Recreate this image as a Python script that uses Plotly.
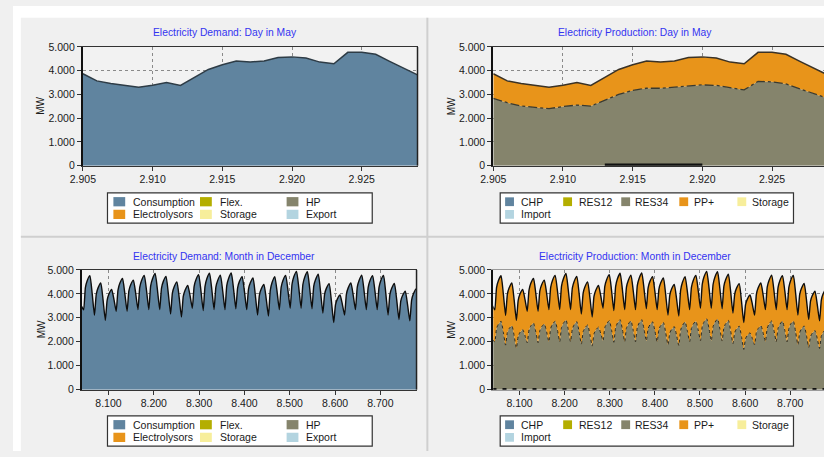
import plotly.graph_objects as go

W, H = 824, 457

# ---------------- data ----------------
# Day in May (hourly)
day_hours = list(range(2905, 2930))
day_demand = [3870, 3570, 3460, 3380, 3300, 3390, 3500, 3380, 3710, 4050, 4250, 4410, 4360,
              4410, 4550, 4580, 4530, 4360, 4290, 4770, 4770, 4690, 4390, 4120, 3820]
day_res34 = [2830, 2650, 2510, 2460, 2400, 2490, 2550, 2510, 2760, 3000, 3170, 3260, 3260,
             3300, 3360, 3400, 3380, 3270, 3190, 3550, 3530, 3440, 3230, 3030, 2830]
day_ppplus = [1040, 920, 950, 920, 900, 900, 950, 870, 950, 1050, 1080, 1150, 1100,
              1110, 1190, 1180, 1150, 1090, 1100, 1220, 1240, 1250, 1160, 1090, 990]
day_chp = [None, None, None, None, None, None, None, None, 40, 40, 40, 40, 40, 40, 40, 40,
           None, None, None, None, None, None, None, None, None]

# Month in December (values read at hours 0, 5, 9, 13, 19 of each day)
month_day_offsets = [0, 5, 9, 13, 19]
month_hours = [8040 + 24 * d + o for d in range(31) for o in month_day_offsets] + [8784]
month_demand = [
    3500, 3330, 4260, 4550, 4760,
    4010, 3100, 3980, 4250, 4450,
    3750, 2890, 3730, 3990, 4180,
    3770, 3270, 4160, 4440, 4640,
    4020, 3270, 4120, 4380, 4570,
    4020, 3340, 4270, 4560, 4770,
    4130, 3340, 4320, 4620, 4850,
    4170, 3340, 4240, 4520, 4730,
    4020, 3160, 4030, 4300, 4500,
    3840, 3030, 3890, 4150, 4350,
    3920, 3400, 4310, 4590, 4800,
    4130, 3300, 4310, 4630, 4860,
    4180, 3340, 4280, 4560, 4780,
    4130, 3340, 4340, 4640, 4870,
    4200, 3380, 4250, 4520, 4720,
    4100, 3340, 4200, 4460, 4660,
    3960, 3110, 3940, 4200, 4390,
    3800, 3070, 4140, 4470, 4720,
    4100, 3340, 4270, 4560, 4770,
    4150, 3400, 4400, 4710, 4940,
    4250, 3400, 4390, 4690, 4920,
    4230, 3380, 4320, 4600, 4820,
    4090, 3200, 3990, 4240, 4420,
    3690, 2800, 3550, 3780, 3950,
    3570, 3110, 3980, 4250, 4450,
    3950, 3340, 4280, 4560, 4780,
    4130, 3340, 4260, 4550, 4760,
    4120, 3340, 4270, 4560, 4770,
    4020, 3110, 3970, 4230, 4430,
    3760, 2930, 3700, 3930, 4110,
    3550, 2870, 3740, 4000, 4200,
    3620,
]
month_res34 = [
    2100, 2000, 2560, 2730, 2860,
    2410, 1860, 2390, 2550, 2670,
    2250, 1730, 2240, 2390, 2510,
    2260, 1960, 2500, 2660, 2780,
    2410, 1960, 2470, 2630, 2740,
    2410, 2000, 2560, 2740, 2860,
    2480, 2000, 2590, 2770, 2910,
    2500, 2000, 2540, 2710, 2840,
    2410, 1900, 2420, 2580, 2700,
    2300, 1820, 2330, 2490, 2610,
    2350, 2040, 2590, 2750, 2880,
    2480, 1980, 2590, 2780, 2920,
    2510, 2000, 2570, 2740, 2870,
    2480, 2000, 2600, 2780, 2920,
    2520, 2030, 2550, 2710, 2830,
    2460, 2000, 2520, 2680, 2800,
    2380, 1870, 2360, 2520, 2630,
    2280, 1840, 2480, 2680, 2830,
    2460, 2000, 2560, 2740, 2860,
    2490, 2040, 2640, 2830, 2960,
    2550, 2040, 2630, 2810, 2950,
    2540, 2030, 2590, 2760, 2890,
    2450, 1920, 2390, 2540, 2650,
    2210, 1680, 2130, 2270, 2370,
    2140, 1870, 2390, 2550, 2670,
    2370, 2000, 2570, 2740, 2870,
    2480, 2000, 2560, 2730, 2860,
    2470, 2000, 2560, 2740, 2860,
    2410, 1870, 2380, 2540, 2660,
    2260, 1760, 2220, 2360, 2470,
    2130, 1720, 2240, 2400, 2520,
    2170,
]
month_ppplus = [
    1400, 1330, 1700, 1820, 1900,
    1600, 1240, 1590, 1700, 1780,
    1500, 1160, 1490, 1600, 1670,
    1510, 1310, 1660, 1780, 1860,
    1610, 1310, 1650, 1750, 1830,
    1610, 1340, 1710, 1820, 1910,
    1650, 1340, 1730, 1850, 1940,
    1670, 1340, 1700, 1810, 1890,
    1610, 1260, 1610, 1720, 1800,
    1540, 1210, 1560, 1660, 1740,
    1570, 1360, 1720, 1840, 1920,
    1650, 1320, 1720, 1850, 1940,
    1670, 1340, 1710, 1820, 1910,
    1650, 1340, 1740, 1860, 1950,
    1680, 1350, 1700, 1810, 1890,
    1640, 1340, 1680, 1780, 1860,
    1580, 1240, 1580, 1680, 1760,
    1520, 1230, 1660, 1790, 1890,
    1640, 1340, 1710, 1820, 1910,
    1660, 1360, 1760, 1880, 1980,
    1700, 1360, 1760, 1880, 1970,
    1690, 1350, 1730, 1840, 1930,
    1640, 1280, 1600, 1700, 1770,
    1480, 1120, 1420, 1510, 1580,
    1430, 1240, 1590, 1700, 1780,
    1580, 1340, 1710, 1820, 1910,
    1650, 1340, 1700, 1820, 1900,
    1650, 1340, 1710, 1820, 1910,
    1610, 1240, 1590, 1690, 1770,
    1500, 1170, 1480, 1570, 1640,
    1420, 1150, 1500, 1600, 1680,
    1450,
]
month_chp = [30] * len(month_hours)

# tick labels
y_tick_values = [0, 1000, 2000, 3000, 4000, 5000]
y_tick_labels = ["0", "1.000", "2.000", "3.000", "4.000", "5.000"]
day_tick_values = [2905, 2910, 2915, 2920, 2925]
day_tick_labels = ["2.905", "2.910", "2.915", "2.920", "2.925"]
month_tick_values = [8100, 8200, 8300, 8400, 8500, 8600, 8700]
month_tick_labels = ["8.100", "8.200", "8.300", "8.400", "8.500", "8.600", "8.700"]

titles = ["Electricity Demand: Day in May", "Electricity Production: Day in May",
          "Electricity Demand: Month in December", "Electricity Production: Month in December"]

demand_legend_labels = ["Consumption", "Flex.", "HP", "Electrolysors", "Storage", "Export"]
production_legend_labels = ["CHP", "RES12", "RES34", "PP+", "Storage", "Import"]

# colours
C_BLUE = "#60849f"
C_OLIVE = "#b4ae00"
C_GREY = "#85846c"
C_ORANGE = "#e8941a"
C_PALE = "#f7ee9b"
C_LIGHTBLUE = "#b3d4e0"
demand_legend_colors = [C_BLUE, C_OLIVE, C_GREY, C_ORANGE, C_PALE, C_LIGHTBLUE]
production_legend_colors = [C_BLUE, C_OLIVE, C_GREY, C_ORANGE, C_PALE, C_LIGHTBLUE]

FONT = "Liberation Sans, Arial, sans-serif"

# ---------------- figure ----------------
fig = go.Figure()

# Top-left: demand, day
fig.add_trace(go.Scatter(x=day_hours, y=day_demand, name="Consumption", mode="lines",
                         fill="tozeroy", fillcolor=C_BLUE,
                         line=dict(color="#2e3c46", width=1.5),
                         xaxis="x", yaxis="y"))
# Top-right: production, day
fig.add_trace(go.Scatter(x=day_hours, y=day_res34, name="RES34", mode="lines",
                         stackgroup="pday", fillcolor=C_GREY,
                         line=dict(color="#3a3a30", width=1.3, dash="dashdot"),
                         xaxis="x2", yaxis="y2"))
fig.add_trace(go.Scatter(x=day_hours, y=day_ppplus, name="PP+", mode="lines",
                         stackgroup="pday", fillcolor=C_ORANGE,
                         line=dict(color="#3a3226", width=1.5),
                         xaxis="x2", yaxis="y2"))
fig.add_trace(go.Scatter(x=day_hours, y=day_chp, name="CHP", mode="lines",
                         line=dict(color="#111111", width=2.5), connectgaps=False,
                         xaxis="x2", yaxis="y2"))
# Bottom-left: demand, month
fig.add_trace(go.Scatter(x=month_hours, y=month_demand, name="Consumption", mode="lines",
                         fill="tozeroy", fillcolor=C_BLUE,
                         line=dict(color="#0d0d0d", width=1.4, shape="spline", smoothing=0.5),
                         xaxis="x3", yaxis="y3"))
# Bottom-right: production, month
fig.add_trace(go.Scatter(x=month_hours, y=month_res34, name="RES34", mode="lines",
                         stackgroup="pmonth", fillcolor=C_GREY,
                         line=dict(color="#2a2a22", width=1.0, dash="dot",
                                   shape="spline", smoothing=0.5),
                         xaxis="x4", yaxis="y4"))
fig.add_trace(go.Scatter(x=month_hours, y=month_ppplus, name="PP+", mode="lines",
                         stackgroup="pmonth", fillcolor=C_ORANGE,
                         line=dict(color="#0d0d0d", width=1.4, shape="spline", smoothing=0.5),
                         xaxis="x4", yaxis="y4"))
fig.add_trace(go.Scatter(x=month_hours, y=month_chp, name="CHP", mode="lines",
                         line=dict(color="#111111", width=2, dash="4px,6px"),
                         xaxis="x4", yaxis="y4"))

# panel geometry in pixels
panels = [
    dict(x=(71, 411), y=(42, 164)),
    dict(x=(488, 824), y=(42, 164)),
    dict(x=(70, 410), y=(271, 394)),
    dict(x=(488, 824), y=(271, 394)),
]
x_ranges = [[2905, 2929], [2905, 2928.73], [8041.3, 8779.8], [8041.8, 8774.9]]
x_ticks = [(day_tick_values, day_tick_labels), (day_tick_values, day_tick_labels),
           (month_tick_values, month_tick_labels), (month_tick_values, month_tick_labels)]

tickfont = dict(family=FONT, size=10.5, color="#1a1a1a")
layout_axes = {}
for i, p in enumerate(panels):
    sx = "" if i == 0 else str(i + 1)
    xv, xt = x_ticks[i]
    layout_axes["xaxis" + sx] = dict(
        domain=[p["x"][0] / W, p["x"][1] / W], range=x_ranges[i],
        anchor="y" + sx, tickvals=xv, ticktext=xt, ticks="outside", ticklen=4,
        tickcolor="#333333", showline=True, linecolor="#333333" if i != 3 else "#9a9a9a",
        linewidth=1, mirror=True,
        showgrid=True, gridcolor="#8a8a8a", griddash="dot", gridwidth=1,
        zeroline=False, tickfont=tickfont, fixedrange=True,
        layer="below traces" if i == 3 else "above traces")
    layout_axes["yaxis" + sx] = dict(
        domain=[1 - p["y"][1] / H, 1 - p["y"][0] / H], range=[0, 5000],
        anchor="x" + sx, tickvals=y_tick_values, ticktext=y_tick_labels,
        ticks="outside", ticklen=4, tickcolor="#333333",
        showline=True, linecolor="#111111", linewidth=2, mirror=False,
        showgrid=True, gridcolor="#8a8a8a", griddash="dot", gridwidth=1,
        zeroline=False, tickfont=tickfont, fixedrange=True)

shapes = []
annotations = []


def pxx(x):
    return x / W


def pxy(y):
    return 1 - y / H


# background strips and separators
shapes.append(dict(type="rect", xref="paper", yref="paper", x0=0, x1=1, y0=pxy(12), y1=1,
                   fillcolor="white", line=dict(width=0), layer="below"))
shapes.append(dict(type="rect", xref="paper", yref="paper", x0=0, x1=pxx(8), y0=0, y1=1,
                   fillcolor="white", line=dict(width=0), layer="below"))
shapes.append(dict(type="line", xref="paper", yref="paper", x0=pxx(8), x1=1, y0=pxy(237), y1=pxy(237),
                   line=dict(color="#cfcfcf", width=2), layer="below"))
shapes.append(dict(type="line", xref="paper", yref="paper", x0=pxx(421), x1=pxx(421), y0=0, y1=pxy(12),
                   line=dict(color="#cfcfcf", width=2), layer="below"))

# right frame for left panels
for p in (panels[0], panels[2]):
    shapes.append(dict(type="line", xref="paper", yref="paper",
                       x0=pxx(p["x"][1]), x1=pxx(p["x"][1]),
                       y0=pxy(p["y"][1]), y1=pxy(p["y"][0]),
                       line=dict(color="#222222", width=1.5)))

# titles and MW labels
title_pos = [(215.5, 27), (632, 27), (214.5, 257), (632, 257)]
mw_pos = [(28, 103), (445, 103), (28.5, 332), (445.5, 332)]
for i in range(4):
    annotations.append(dict(text=titles[i], x=pxx(title_pos[i][0]), y=pxy(title_pos[i][1]),
                            xref="paper", yref="paper", showarrow=False,
                            xanchor="center", yanchor="middle",
                            font=dict(family=FONT, size=10.3, color="#3434f0")))
    annotations.append(dict(text="MW", x=pxx(mw_pos[i][0]), y=pxy(mw_pos[i][1]),
                            xref="paper", yref="paper", showarrow=False, textangle=-90,
                            xanchor="center", yanchor="middle",
                            font=dict(family=FONT, size=10, color="#1a1a1a")))

# legends (manual boxes)
demand_slots = [  # swatch x0, text x, row y
    (102, 120, 201), (190, 208, 201), (278, 296, 201),
    (102, 120, 214), (190, 208, 214), (278, 296, 214),
]
production_slots = [
    (500, 514, 201), (559, 573, 201), (618, 630, 201),
    (677, 690, 201), (736, 749, 201), (500, 514, 214),
]
legend_specs = [
    ((96, 365), demand_legend_labels, demand_legend_colors, demand_slots, 0, 12, 9.5),
    ((495, 793), production_legend_labels, production_legend_colors, production_slots, 0, 9, 9),
    ((96, 365), demand_legend_labels, demand_legend_colors, demand_slots, 229, 12, 9.5),
    ((495, 793), production_legend_labels, production_legend_colors, production_slots, 229, 9, 9),
]
for (bx, labels, colors, slots, dy, sw, sh) in legend_specs:
    shapes.append(dict(type="rect", xref="paper", yref="paper",
                       x0=pxx(bx[0]), x1=pxx(bx[1]), y0=pxy(223 + dy), y1=pxy(192 + dy),
                       fillcolor="white", line=dict(color="#333333", width=1.2)))
    for lab, col, (sx0, tx, ry) in zip(labels, colors, slots):
        ry = ry + dy
        shapes.append(dict(type="rect", xref="paper", yref="paper",
                           x0=pxx(sx0), x1=pxx(sx0 + sw), y0=pxy(ry + sh / 2), y1=pxy(ry - sh / 2),
                           fillcolor=col, line=dict(width=0)))
        annotations.append(dict(text=lab, x=pxx(tx), y=pxy(ry), xref="paper", yref="paper",
                                showarrow=False, xanchor="left", yanchor="middle",
                                font=dict(family=FONT, size=10.5, color="#1a1a1a")))

fig.update_layout(
    width=W, height=H, margin=dict(l=0, r=0, t=0, b=0),
    paper_bgcolor="#f0f0f0", plot_bgcolor="#f2f2f2",
    showlegend=False, shapes=shapes, annotations=annotations,
    font=dict(family=FONT, size=10.5, color="#1a1a1a"),
    **layout_axes,
)

fig.write_html(
    "out.html",
    config={"displayModeBar": False, "staticPlot": True},
    post_script="document.body.style.margin='0';document.body.style.overflow='hidden';",
)
